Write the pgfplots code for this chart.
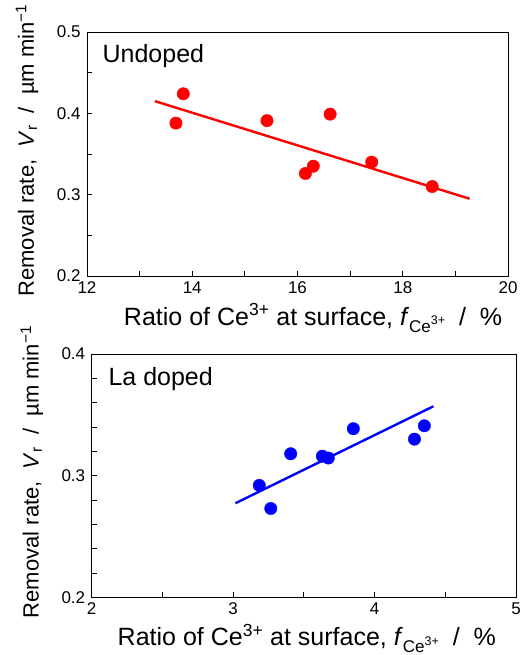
\documentclass[border=0pt]{standalone}
\usepackage{fontspec}
\setmainfont{Liberation Sans}
\usepackage{pgfplots}
\pgfplotsset{compat=1.18}
\definecolor{dred}{HTML}{FF0000}
\definecolor{dblue}{HTML}{0000FF}
\newcommand{\fce}{\textit{f}\raisebox{-0.3em}{\fontsize{17}{18}\selectfont Ce\raisebox{0.45em}{\fontsize{12.5}{13}\selectfont 3+}}}
\pgfplotsset{
  panel/.style={scale only axis, axis line style={black, line width=0.9pt},
    tick align=inside, xtick pos=left, ytick pos=left,
    major tick length=5pt, minor tick length=5pt,
    every tick/.style={black, line width=0.8pt},
    tick label style={font=\fontsize{17}{19}\selectfont},
    /pgf/number format/assume math mode=true,
    yticklabel style={/pgf/number format/fixed,/pgf/number format/precision=1, xshift=-3pt},
    xticklabel style={yshift=-2pt},
    xlabel style={font=\fontsize{25}{28}\selectfont},
    ylabel style={font=\fontsize{22}{25}\selectfont, at={(axis description cs:0,0.515)}, anchor=base, yshift=53pt},
    ylabel={Removal rate,\ \ \textit{V}\textsubscript{r}\ \ /\ \ µm min\textsuperscript{−1}},
    xlabel={Ratio of Ce\textsuperscript{3+} at surface,\ \fce\ \ /\ \ \%},
    clip=false},
  pts/.style={only marks, mark=*, mark size=6.2pt},
  fit/.style={no marks, line width=2.4pt},
}
\begin{document}
\begin{tikzpicture}
\useasboundingbox (0,0) rectangle (522pt,-655pt);
\begin{axis}[panel, at={(87pt,-32pt)}, anchor=north west, width=421pt, height=244pt,
  xmin=12, xmax=20, ymin=0.2, ymax=0.5,
  xtick={12,14,16,18,20}, minor x tick num=1,
  ytick={0.2,0.3,0.4,0.5}, minor y tick num=1,
  xlabel style={at={(axis description cs:0.537,0)}, anchor=base, yshift=-49pt}]
\addplot[pts, dred] coordinates {
 (13.69,0.388) (13.83,0.424) (15.42,0.391) (16.62,0.399)
 (16.15,0.326) (16.30,0.335) (17.41,0.340) (18.56,0.310)};
\addplot[fit, dred] coordinates {(13.29,0.415) (19.27,0.295)};
\node[anchor=base west, font=\fontsize{25}{28}\selectfont] at (axis cs:12.23,0.462) {Undoped};
\end{axis}
\begin{axis}[panel, at={(91.7pt,-354pt)}, anchor=north west, width=424.3pt, height=243.3pt,
  xmin=2, xmax=5, ymin=0.2, ymax=0.4,
  xtick={2,3,4,5}, minor x tick num=1,
  ytick={0.2,0.3,0.4}, minor y tick num=4,
  xlabel style={at={(axis description cs:0.507,0)}, anchor=base, yshift=-48pt}]
\addplot[pts, dblue] coordinates {
 (3.185,0.292) (3.266,0.273) (3.407,0.318) (3.631,0.316)
 (3.673,0.3145) (3.850,0.3386) (4.282,0.330) (4.352,0.341)};
\addplot[fit, dblue] coordinates {(3.016,0.2773) (4.416,0.357)};
\node[anchor=base west, font=\fontsize{25}{28}\selectfont] at (axis cs:2.094,0.3745) {La doped};
\end{axis}
\end{tikzpicture}
\end{document}
